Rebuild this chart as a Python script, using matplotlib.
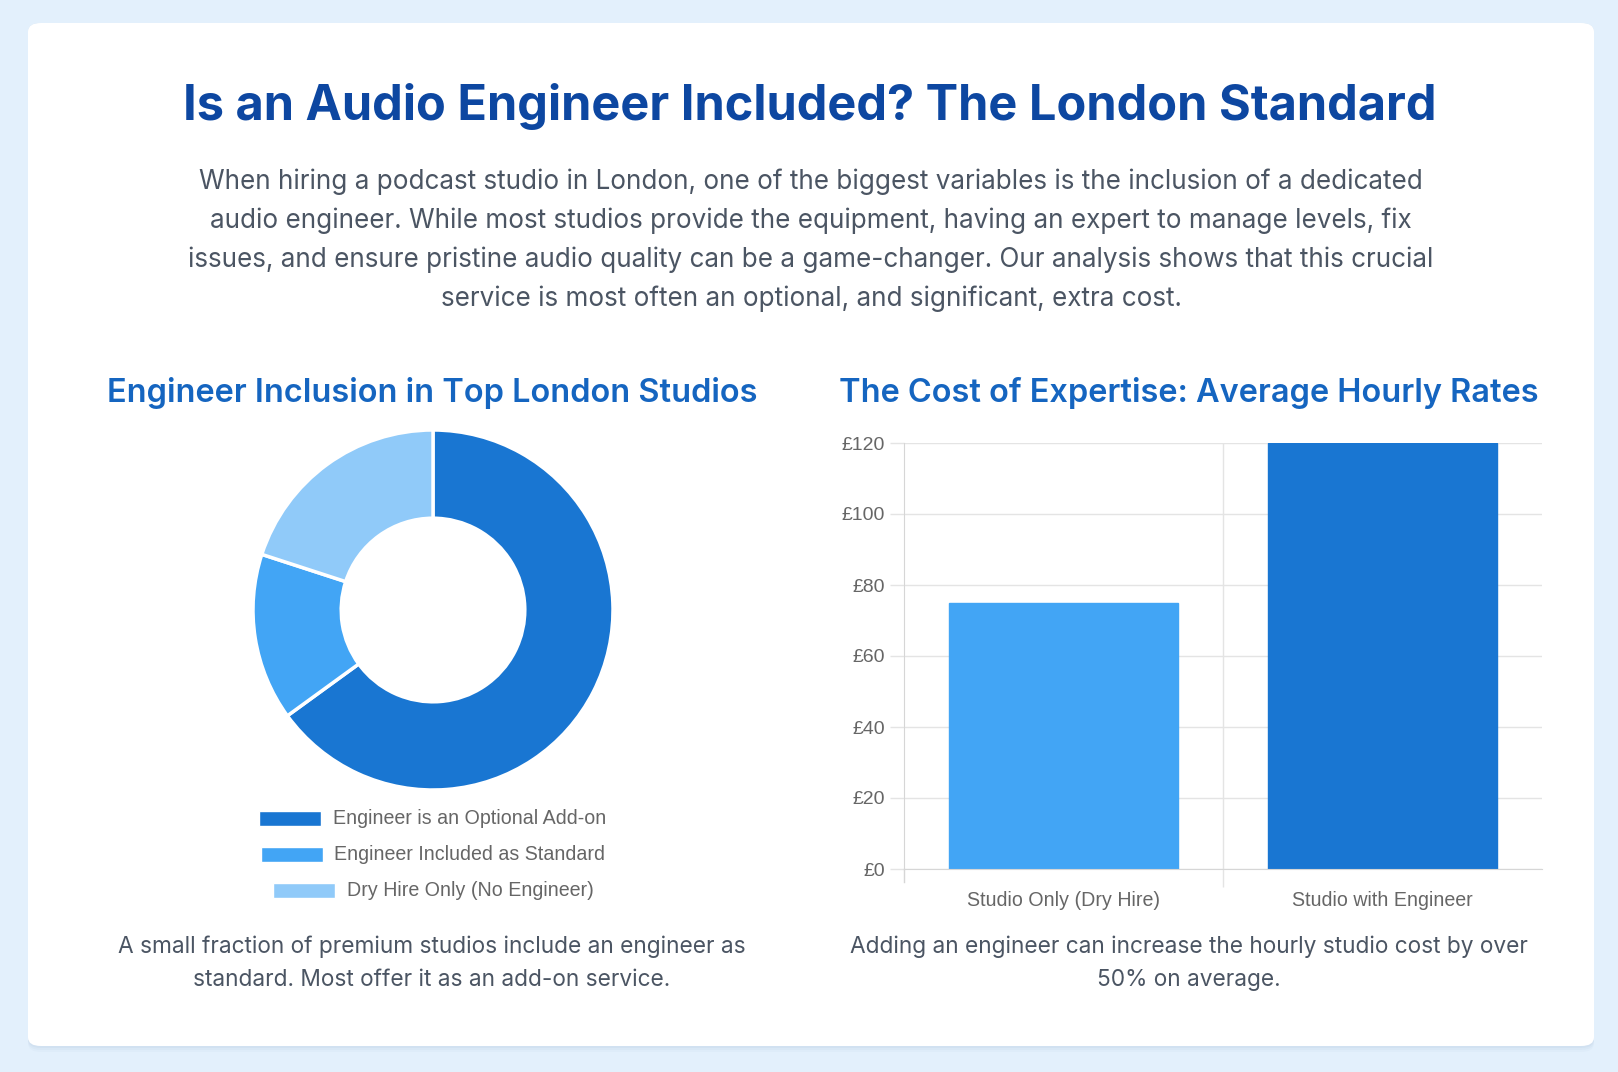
import matplotlib
matplotlib.use("Agg")
import matplotlib.pyplot as plt
from matplotlib.patches import FancyBboxPatch, Rectangle
from matplotlib.ticker import FixedLocator

# ----------------------------------------------------------------------------------------------
# Data
# ----------------------------------------------------------------------------------------------
title = "Is an Audio Engineer Included? The London Standard"
intro_lines = [
    "When hiring a podcast studio in London, one of the biggest variables is the inclusion of a dedicated",
    "audio engineer. While most studios provide the equipment, having an expert to manage levels, fix",
    "issues, and ensure pristine audio quality can be a game-changer. Our analysis shows that this crucial",
    "service is most often an optional, and significant, extra cost.",
]

donut_title = "Engineer Inclusion in Top London Studios"
donut_labels = ["Engineer is an Optional Add-on", "Engineer Included as Standard", "Dry Hire Only (No Engineer)"]
donut_values = [65, 15, 20]
donut_colors = ["#1976d2", "#42a5f5", "#90caf9"]
donut_note = ["A small fraction of premium studios include an engineer as",
              "standard. Most offer it as an add-on service."]

bar_title = "The Cost of Expertise: Average Hourly Rates"
bar_labels = ["Studio Only (Dry Hire)", "Studio with Engineer"]
bar_values = [75, 120]
bar_colors = ["#42a5f5", "#1976d2"]
bar_yticks = [0, 20, 40, 60, 80, 100, 120]
bar_note = ["Adding an engineer can increase the hourly studio cost by over",
            "50% on average."]

# ----------------------------------------------------------------------------------------------
# Figure and card
# ----------------------------------------------------------------------------------------------
W, H = 1618, 1072
fig = plt.figure(figsize=(W / 100, H / 100), dpi=100)
fig.patch.set_facecolor("#e3f0fc")


def fx(x):
    return x / W


def fy(y):
    return 1 - y / H


# soft shadow then the white card
for off, alpha in [(6, 0.03), (4, 0.04), (2, 0.05)]:
    fig.patches.append(FancyBboxPatch(
        (fx(28), fy(1046 + off)), fx(1594) - fx(28), fy(23) - fy(1046 + off),
        boxstyle="round,pad=0,rounding_size=0.008", transform=fig.transFigure,
        facecolor="#5a7fa8", edgecolor="none", alpha=alpha, zorder=-3))
fig.patches.append(FancyBboxPatch(
    (fx(28), fy(1046)), fx(1594) - fx(28), fy(23) - fy(1046),
    boxstyle="round,pad=0,rounding_size=0.008", transform=fig.transFigure,
    facecolor="white", edgecolor="none", zorder=-2))

# ----------------------------------------------------------------------------------------------
# Header
# ----------------------------------------------------------------------------------------------
fig.text(fx(810), fy(106), title, ha="center", va="center", fontsize=35.1,
         fontweight="bold", family="Inter", color="#0d47a1")
for i, line in enumerate(intro_lines):
    fig.text(fx(811), fy(182 + i * 39), line, ha="center", va="center", fontsize=18.75,
             family="Inter", color="#4b5563")

fig.text(fx(432), fy(393), donut_title, ha="center", va="center", fontsize=23.4,
         fontweight="semibold", family="Inter", color="#1565c0")
fig.text(fx(1189), fy(393), bar_title, ha="center", va="center", fontsize=23.4,
         fontweight="semibold", family="Inter", color="#1565c0")

# ----------------------------------------------------------------------------------------------
# Donut chart
# ----------------------------------------------------------------------------------------------
cx, cy, r = 433, 610, 180
ax1 = fig.add_axes([fx(cx - r), fy(cy + r), 2 * r / W, 2 * r / H])
ax1.pie(donut_values, colors=donut_colors, startangle=90, counterclock=False,
        radius=1, wedgeprops=dict(width=0.49, edgecolor="white", linewidth=2.5))
ax1.set_xlim(-1.0, 1.0)
ax1.set_ylim(-1.0, 1.0)
ax1.set_aspect("equal")
ax1.axis("off")

# legend rows, each centred like Chart.js
renderer = fig.canvas.get_renderer()
box_w, box_h, gap = 62, 15, 12
for i, (lab, col) in enumerate(zip(donut_labels, donut_colors)):
    ty = 818 + i * 36
    t = fig.text(0, fy(ty), lab, ha="left", va="center", fontsize=14.1,
                 family="Liberation Sans", color="#666666")
    tw = t.get_window_extent(renderer).width
    x0 = cx - (box_w + gap + tw) / 2
    t.set_x(fx(x0 + box_w + gap))
    fig.patches.append(Rectangle((fx(x0), fy(ty + box_h / 2)), box_w / W, box_h / H,
                                 transform=fig.transFigure, facecolor=col,
                                 edgecolor="white", linewidth=1, zorder=2))

for i, line in enumerate(donut_note):
    fig.text(fx(432), fy(947 + i * 33), line, ha="center", va="center", fontsize=16.35,
             family="Inter", color="#4b5563")

# ----------------------------------------------------------------------------------------------
# Bar chart
# ----------------------------------------------------------------------------------------------
left, right, top, bottom = 904, 1542, 443, 869
ax2 = fig.add_axes([fx(left), fy(bottom), (right - left) / W, (bottom - top) / H])
ax2.patch.set_alpha(0)
x = list(range(len(bar_values)))
ax2.bar(x, bar_values, width=0.72, color=bar_colors, edgecolor=bar_colors,
        linewidth=1, zorder=3)
ax2.set_xlim(-0.5, len(bar_values) - 0.5)
ax2.set_ylim(0, 120)

grid_col = "#e4e4e4"
ax2.set_yticks(bar_yticks)
ax2.set_yticklabels([f"£{v}" for v in bar_yticks], family="Liberation Sans",
                    fontsize=14, color="#666666")
ax2.set_xticks(x)
ax2.set_xticklabels(bar_labels, family="Liberation Sans", fontsize=14.1, color="#666666")
ax2.xaxis.set_minor_locator(FixedLocator([0.5]))
ax2.tick_params(axis="y", length=10, color=grid_col, pad=3.5, width=1)
ax2.tick_params(axis="x", which="major", length=0, pad=15.5)
ax2.tick_params(axis="x", which="minor", length=13, color=grid_col, width=1)
ax2.grid(axis="y", color=grid_col, linewidth=1, zorder=0)
ax2.grid(axis="x", which="minor", color=grid_col, linewidth=1, zorder=0)
for side in ["top", "right"]:
    ax2.spines[side].set_visible(False)
ax2.spines["left"].set_color("#d6d6d6")
ax2.spines["bottom"].set_color("#d6d6d6")
ax2.spines["left"].set_zorder(4)
ax2.spines["bottom"].set_zorder(4)
# extend the left axis line below zero like the tick marks
ax2.plot([-0.5, -0.5], [0, -13 / 3.55], color="#d6d6d6", linewidth=1, clip_on=False, zorder=4)

for i, line in enumerate(bar_note):
    fig.text(fx(1189), fy(947 + i * 33), line, ha="center", va="center", fontsize=16.35,
             family="Inter", color="#4b5563")

fig.savefig("out.png", dpi=100, facecolor=fig.get_facecolor())
